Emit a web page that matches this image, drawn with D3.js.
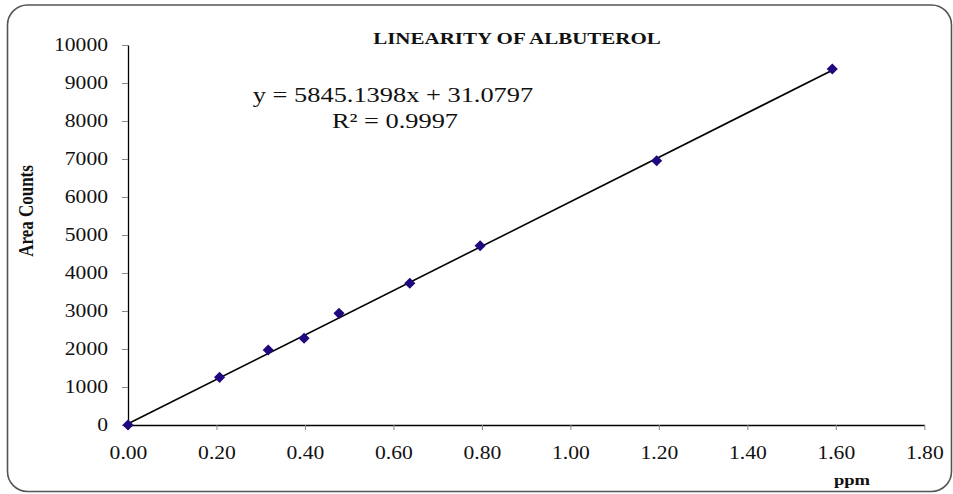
<!DOCTYPE html>
<html>
<head>
<meta charset="utf-8">
<script src="https://cdn.jsdelivr.net/npm/d3@7"></script>
<style>
  html, body { margin: 0; padding: 0; background: #fff; }
  svg text { font-family: "Liberation Serif", "Times New Roman", serif; }
</style>
</head>
<body>
<div id="chart"></div>
<script>
(function() {
  'use strict';

  var
    TITLE = 'LINEARITY OF ALBUTEROL',
    X_LABEL = 'ppm',
    Y_LABEL = 'Area Counts',
    EQUATION = 'y = 5845.1398x + 31.0797',
    R_SQUARED = 'R\u00B2 = 0.9997',

    // trendline coefficients as printed on the chart
    SLOPE = 5845.1398,
    INTERCEPT = 31.0797,

    ppm = [0, 0.207, 0.317, 0.398, 0.477, 0.637, 0.796, 1.195, 1.592],
    areaCounts = [0, 1255, 1974, 2282, 2939, 3729, 4718, 6955, 9368],

    xTicks = [0, 0.2, 0.4, 0.6, 0.8, 1.0, 1.2, 1.4, 1.6, 1.8],
    yTicks = [0, 1000, 2000, 3000, 4000, 5000, 6000, 7000, 8000, 9000, 10000];

  var
    WIDTH = 953,
    HEIGHT = 494,
    SX = 1.2,          // the source picture is stretched horizontally
    margin = {left: 128, right: 953 - 924.3, top: 45, bottom: 494 - 425};

  var points = ppm.map(function(x, i) {
    return {x: x, y: areaCounts[i]};
  });

  var svg = d3.select('#chart')
    .append('svg')
    .attr('width', WIDTH)
    .attr('height', HEIGHT);

  // rounded frame
  svg.append('rect')
    .attr('x', 7.5)
    .attr('y', 5)
    .attr('width', 944)
    .attr('height', 486.5)
    .attr('rx', 20)
    .attr('ry', 20)
    .attr('fill', '#fff')
    .attr('stroke', '#555')
    .attr('stroke-width', 1.6);

  var x = d3.scaleLinear()
    .domain([0, 1.8])
    .range([margin.left, WIDTH - margin.right]);

  var y = d3.scaleLinear()
    .domain([0, 10000])
    .range([HEIGHT - margin.bottom, margin.top]);

  var yAxis = svg.append('g')
    .attr('transform', 'translate(' + margin.left + ',0)')
    .call(d3.axisLeft(y).tickValues(yTicks).tickSize(6).tickSizeOuter(0)
      .tickFormat(d3.format('d')));

  yAxis.selectAll('text')
    .attr('x', -20 / SX)
    .attr('dy', '0.33em')
    .attr('transform', 'scale(' + SX + ',1)')
    .attr('font-size', 18)
    .attr('font-family', '"Liberation Serif", "Times New Roman", serif')
    .attr('fill', '#111');

  var xAxis = svg.append('g')
    .attr('transform', 'translate(0,' + (HEIGHT - margin.bottom) + ')')
    .call(d3.axisBottom(x).tickValues(xTicks).tickSize(5).tickSizeOuter(0)
      .tickFormat(d3.format('.2f')));

  xAxis.selectAll('text')
    .attr('y', 34)
    .attr('dy', 0)
    .attr('transform', 'scale(' + SX + ',1)')
    .attr('font-size', 18)
    .attr('font-family', '"Liberation Serif", "Times New Roman", serif')
    .attr('fill', '#111');

  svg.selectAll('.domain')
    .attr('stroke', '#000')
    .attr('stroke-width', 1.3);
  svg.selectAll('.tick line')
    .attr('stroke', '#888');

  // linear trendline over the data range
  var xExtent = d3.extent(ppm);
  svg.append('line')
    .attr('x1', x(xExtent[0]))
    .attr('y1', y(SLOPE * xExtent[0] + INTERCEPT))
    .attr('x2', x(xExtent[1]))
    .attr('y2', y(SLOPE * xExtent[1] + INTERCEPT))
    .attr('stroke', '#000')
    .attr('stroke-width', 1.6);

  svg.selectAll('path.marker')
    .data(points)
    .enter()
    .append('path')
    .attr('class', 'marker')
    .attr('d', d3.symbol(d3.symbolSquare, 62))
    .attr('transform', function(d) {
      return 'translate(' + x(d.x) + ',' + y(d.y) + ') rotate(45)';
    })
    .attr('fill', '#22087f');

  function label(text, px, py, size, weight, anchor, rotate) {
    return svg.append('text')
      .attr('transform', 'translate(' + px + ',' + py + ') scale(' + SX + ',1)' +
        (rotate ? ' rotate(' + rotate + ')' : ''))
      .attr('text-anchor', anchor || 'middle')
      .attr('font-size', size)
      .attr('font-weight', weight || 'normal')
      .attr('fill', '#111')
      .text(text);
  }

  label(TITLE, 517, 44, 17.5, 'bold');
  label(Y_LABEL, 33, 211, 17, 'bold', 'middle', -90);
  label(X_LABEL, 852, 485, 15.5, 'bold');
  label(EQUATION, 393, 102, 22);
  label(R_SQUARED, 395, 128, 22);
})();
</script>
</body>
</html>
